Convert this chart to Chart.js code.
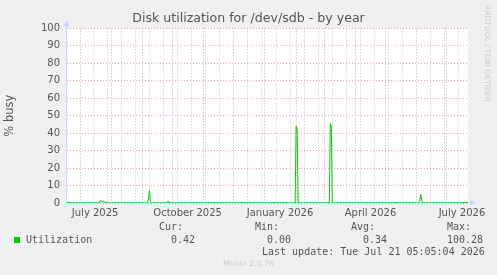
<!DOCTYPE html>
<html>
<head>
<meta charset="utf-8">
<script src="https://cdn.jsdelivr.net/npm/chart.js@4"></script>
<style>
  body { margin: 0; background: #f0f0f0; }
  #wrap { position: relative; width: 497px; height: 275px; }
  .t { position: absolute; font-family: "DejaVu Sans Mono", monospace; font-size: 10px; line-height: 12px; color: #555; white-space: pre; }
  #swatch { position: absolute; left: 14px; top: 237px; width: 6px; height: 6px; background: #00cc00; }
  #munin { position: absolute; left: 223px; top: 259px; font-family: "DejaVu Sans", sans-serif; font-size: 7.8px; line-height: 10px; color: #ccc; }
  #rrd { position: absolute; left: 483px; top: 5px; writing-mode: vertical-rl; font-family: "DejaVu Sans", sans-serif; font-size: 7.5px; color: #ccc; }
</style>
</head>
<body>
<div id="wrap">
  <canvas id="chart" width="497" height="275"></canvas>
  <div id="rrd">RRDTOOL / TOBI OETIKER</div>
  <div class="t" style="left:159px;top:221px">Cur:</div>
  <div class="t" style="left:255px;top:221px">Min:</div>
  <div class="t" style="left:351px;top:221px">Avg:</div>
  <div class="t" style="left:447px;top:221px">Max:</div>
  <div id="swatch"></div>
  <div class="t" style="left:26px;top:234px">Utilization</div>
  <div class="t" style="left:171px;top:234px">0.42</div>
  <div class="t" style="left:267px;top:234px">0.00</div>
  <div class="t" style="left:363px;top:234px">0.34</div>
  <div class="t" style="left:447px;top:234px">100.28</div>
  <div class="t" style="left:262px;top:246px">Last update: Tue Jul 21 05:05:04 2026</div>
  <div id="munin">Munin 2.0.76</div>
</div>
<script>
// days counted from 16 Jun 2025, one point per day where something happens
const days = [2, 4, 5, 6, 34, 35, 36, 37, 38, 39, 40, 41, 42, 43, 82, 83, 84, 85, 86, 101, 102, 103, 104,
  142, 143, 144, 175, 176, 177, 207, 208, 209, 229, 230, 231, 232, 263, 264, 265, 266,
  329, 330, 331, 352, 353, 354, 355, 356, 396, 397, 398, 401];
const busy = [0, 0.6, 0.2, 0, 0, 1.5, 1.1, 0.8, 1.2, 0.7, 0.4, 0.6, 0.3, 0, 0, 2, 7, 1, 0, 0, 0.6, 1.2, 0,
  0, 0.4, 0, 0, 0.5, 0, 0, 0.5, 0, 0, 44, 42, 0, 0, 45.5, 44, 0,
  0, 0.6, 0, 0, 1, 5, 1.5, 0, 0, 0.5, 0, 0.42];

// month starts (red grid) and fortnightly lines (grey grid)
const monthStarts = [15, 46, 77, 107, 138, 168, 199, 230, 258, 289, 319, 350, 380];
const fortnights = [28, 42, 56, 70, 84, 98, 112, 126, 140, 154, 168, 182, 196, 210, 224, 238, 252, 266, 280, 294, 308, 322, 336, 350, 364, 378, 392];
// labels sit in the middle of their month
const labelDays = [30, 122, 214, 304, 395];
const labelText = ['July 2025', 'October 2025', 'January 2026', 'April 2026', 'July 2026'];

const red = 'rgba(230,150,150,0.9)';
const grey = 'rgba(190,190,190,0.9)';
const axisBlue = 'rgb(204,210,255)';

const plotBg = {
  id: 'plotBg',
  beforeDraw(chart) {
    const a = chart.chartArea, ctx = chart.ctx;
    ctx.save();
    ctx.fillStyle = '#fff';
    ctx.fillRect(a.left, a.top, a.right - a.left, a.bottom - a.top);
    ctx.restore();
  },
  beforeDatasetsDraw(chart) {
    // rrdtool style axes with arrow heads
    const a = chart.chartArea, ctx = chart.ctx;
    ctx.save();
    ctx.strokeStyle = axisBlue;
    ctx.fillStyle = axisBlue;
    ctx.lineWidth = 1;
    ctx.beginPath();
    ctx.moveTo(a.left - 0.5, a.bottom);
    ctx.lineTo(a.left - 0.5, a.top - 4);
    ctx.moveTo(a.left, a.bottom - 0.5);
    ctx.lineTo(a.right + 4, a.bottom - 0.5);
    ctx.stroke();
    ctx.beginPath();
    ctx.moveTo(a.left - 3.5, a.top - 2);
    ctx.lineTo(a.left + 2.5, a.top - 2);
    ctx.lineTo(a.left - 0.5, a.top - 8);
    ctx.closePath();
    ctx.fill();
    ctx.beginPath();
    ctx.moveTo(a.right + 2, a.bottom - 3.5);
    ctx.lineTo(a.right + 2, a.bottom + 2.5);
    ctx.lineTo(a.right + 8, a.bottom - 0.5);
    ctx.closePath();
    ctx.fill();
    ctx.restore();
  }
};

new Chart(document.getElementById('chart'), {
  type: 'line',
  data: {
    datasets: [{
      label: 'Utilization',
      data: days.map((d, i) => ({ x: d, y: busy[i] })),
      borderColor: '#00cc00',
      borderWidth: 1,
      pointRadius: 0,
      tension: 0,
      fill: false
    }]
  },
  options: {
    responsive: false,
    animation: false,
    events: [],
    layout: { padding: 0 },
    plugins: {
      legend: { display: false },
      tooltip: { enabled: false },
      title: {
        display: true,
        text: 'Disk utilization for /dev/sdb - by year',
        color: '#555',
        font: { family: 'DejaVu Sans', size: 12.6, weight: 'normal' },
        padding: { top: 11.5, bottom: 1.7 }
      }
    },
    scales: {
      x: {
        type: 'linear',
        min: 2,
        max: 401,
        afterFit: s => { s.height = 72; },
        afterBuildTicks: s => {
          const vals = [...monthStarts, ...fortnights.filter(v => !monthStarts.includes(v)), ...labelDays];
          s.ticks = vals.sort((a, b) => a - b).map(v => ({ value: v }));
        },
        ticks: {
          autoSkip: false,
          maxRotation: 0,
          padding: 4,
          color: '#555',
          font: { family: 'DejaVu Sans', size: 10 },
          callback: v => {
            const i = labelDays.indexOf(v);
            return i >= 0 ? labelText[i] : '';
          }
        },
        grid: {
          drawTicks: false,
          color: c => {
            const v = c.tick && c.tick.value;
            if (monthStarts.includes(v)) return red;
            if (fortnights.includes(v)) return grey;
            return 'rgba(0,0,0,0)';
          }
        },
        border: { display: false, dash: [1, 2] }
      },
      y: {
        min: 0,
        max: 100,
        afterFit: s => { s.width = 67; },
        ticks: {
          stepSize: 5,
          padding: 7,
          color: '#555',
          font: { family: 'DejaVu Sans', size: 10 },
          callback: v => (v % 10 === 0 ? v : '')
        },
        grid: {
          drawTicks: false,
          color: c => (c.tick && c.tick.value % 10 === 0 ? red : grey)
        },
        border: { display: false, dash: [1, 2] },
        title: {
          display: true,
          text: '% busy',
          color: '#555',
          font: { family: 'DejaVu Sans', size: 11.5 },
          padding: { top: 3.5 }
        }
      },
      y2: {
        position: 'right',
        afterFit: s => { s.width = 29; },
        ticks: { display: false },
        grid: { display: false },
        border: { display: false }
      }
    }
  },
  plugins: [plotBg]
});
</script>
</body>
</html>
